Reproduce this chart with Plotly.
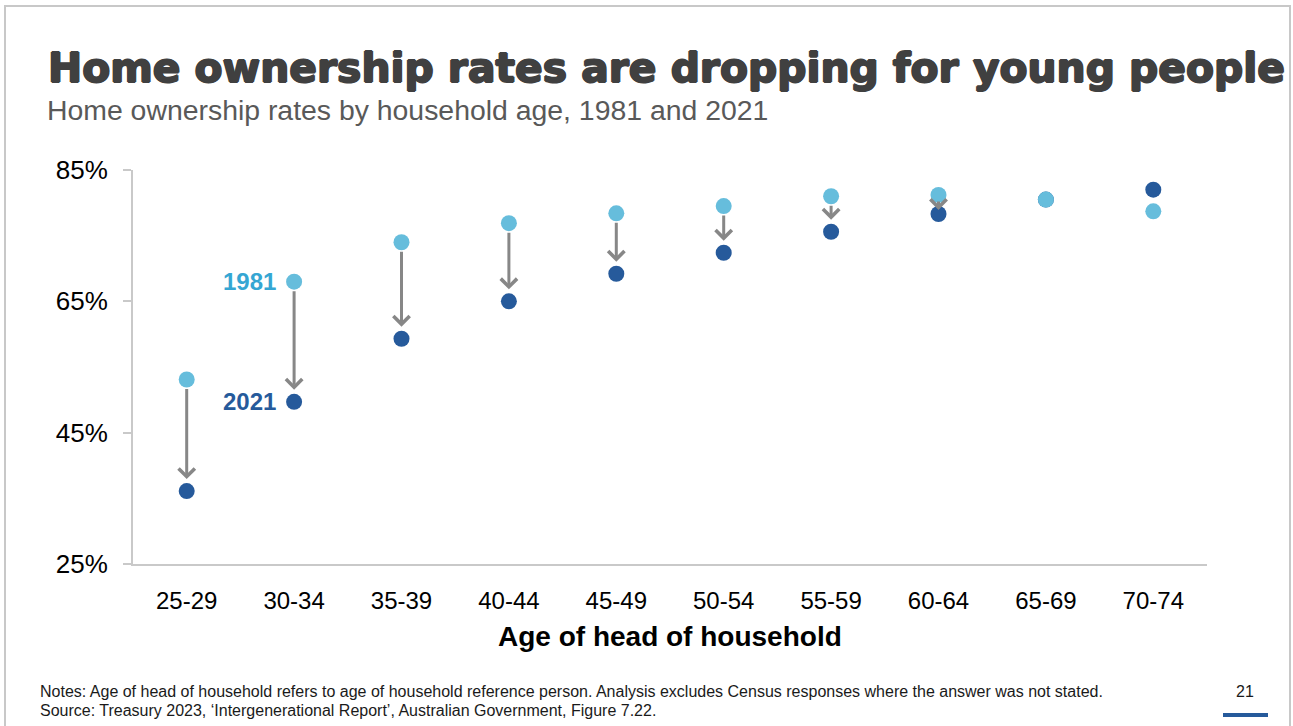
import plotly.graph_objects as go

# ---- data ----
age_groups = ["25-29", "30-34", "35-39", "40-44", "45-49", "50-54", "55-59", "60-64", "65-69", "70-74"]
rate_1981 = [53.1, 68.0, 74.0, 76.9, 78.4, 79.5, 81.0, 81.2, 80.5, 78.7]
rate_2021 = [36.1, 49.7, 59.3, 65.0, 69.2, 72.4, 75.6, 78.3, 80.5, 82.0]
y_ticks = [25, 45, 65, 85]
y_tick_labels = ["25%", "45%", "65%", "85%"]

title_text = "Home ownership rates are dropping for young people"
subtitle_text = "Home ownership rates by household age, 1981 and 2021"
notes_text = ("Notes: Age of head of household refers to age of household reference person. "
              "Analysis excludes Census responses where the answer was not stated.")
source_text = "Source: Treasury 2023, \u2018Intergenerational Report\u2019, Australian Government, Figure 7.22."
page_number = "21"

# ---- layout geometry (pixels) ----
W, H = 1293, 726
ML, MR, MT, MB = 133, 86, 170, 162
PW, PH = W - ML - MR, H - MT - MB
Y0, Y1 = 25, 85

def px(x):
    return (x - ML) / PW

def py(y):
    return (H - MB - y) / PH

C1981 = "#66bddc"
C2021 = "#265a9b"
LBL1981 = "#35a6d3"
GRAY_AX = "#c9c9c9"
ARROW = "#878787"

fig = go.Figure()

# 2021 first so 1981 sits on top where they coincide
fig.add_trace(go.Scatter(
    x=age_groups, y=rate_2021, mode="markers", name="2021",
    marker=dict(size=16, color=C2021), hoverinfo="x+y"))
fig.add_trace(go.Scatter(
    x=age_groups, y=rate_1981, mode="markers", name="1981",
    marker=dict(size=16, color=C1981), hoverinfo="x+y"))

annotations = []
# arrows for declines
for g, a, b in zip(age_groups, rate_1981, rate_2021):
    if a - b > 0.5:
        gap_px = (a - b) / (Y1 - Y0) * PH
        if gap_px > 30:
            so, sso = 12, 8
        else:
            so, sso = 4, 5
        annotations.append(dict(
            x=g, y=b, ax=g, ay=a, xref="x", yref="y", axref="x", ayref="y",
            text="", showarrow=True, arrowhead=4, arrowsize=1.05, arrowwidth=3,
            arrowcolor=ARROW, standoff=so, startstandoff=sso))

# series labels next to 30-34
annotations.append(dict(x=age_groups[1], y=rate_1981[1], xref="x", yref="y",
                        text="<b>1981</b>", showarrow=False, xanchor="right", xshift=-16,
                        font=dict(family="Liberation Sans, Arial", size=24, color=LBL1981)))
annotations.append(dict(x=age_groups[1], y=rate_2021[1], xref="x", yref="y",
                        text="<b>2021</b>", showarrow=False, xanchor="right", xshift=-16,
                        font=dict(family="Liberation Sans, Arial", size=24, color=C2021)))

# titles
annotations.append(dict(x=px(46), y=py(68), xref="paper", yref="paper",
                        text="<b>" + title_text + "</b>", showarrow=False,
                        xanchor="left", yanchor="middle",
                        font=dict(family="DejaVu Sans", size=40.8, color="#404040",
                                  shadow="1px 0px 0px #404040, -1px 0px 0px #404040, 0px 1px 0px #404040, 0px -1px 0px #404040")))
annotations.append(dict(x=px(45), y=py(110), xref="paper", yref="paper",
                        text=subtitle_text, showarrow=False,
                        xanchor="left", yanchor="middle",
                        font=dict(family="Liberation Sans, Arial", size=28.4, color="#595959")))
# axis title
annotations.append(dict(x=px(670), y=py(636), xref="paper", yref="paper",
                        text="<b>Age of head of household</b>", showarrow=False,
                        xanchor="center", yanchor="middle",
                        font=dict(family="Liberation Sans, Arial", size=28, color="#000000")))
# notes
annotations.append(dict(x=px(38), y=py(691), xref="paper", yref="paper",
                        text=notes_text, showarrow=False, xanchor="left", yanchor="middle",
                        font=dict(family="Liberation Sans, Arial", size=16, color="#1a1a1a")))
annotations.append(dict(x=px(38), y=py(710), xref="paper", yref="paper",
                        text=source_text, showarrow=False, xanchor="left", yanchor="middle",
                        font=dict(family="Liberation Sans, Arial", size=16, color="#1a1a1a")))
annotations.append(dict(x=px(1245), y=py(691), xref="paper", yref="paper",
                        text=page_number, showarrow=False, xanchor="center", yanchor="middle",
                        font=dict(family="Liberation Sans, Arial", size=16, color="#1a1a1a")))

shapes = [
    # slide frame
    dict(type="rect", xref="paper", yref="paper", x0=px(5), x1=px(1290), y0=py(740), y1=py(6),
         line=dict(color="#c8c8c8", width=2), fillcolor="rgba(0,0,0,0)", layer="below"),
    # page-number bar
    dict(type="rect", xref="paper", yref="paper", x0=px(1223), x1=px(1268), y0=py(717), y1=py(713),
         line=dict(width=0), fillcolor=C2021),
]

fig.update_layout(
    width=W, height=H,
    margin=dict(l=ML, r=MR, t=MT, b=MB, autoexpand=False),
    paper_bgcolor="white", plot_bgcolor="white",
    showlegend=False,
    annotations=annotations, shapes=shapes,
    font=dict(family="Liberation Sans, Arial", color="#000000"),
    xaxis=dict(
        type="category", range=[-0.5, len(age_groups) - 0.5],
        showline=True, linecolor=GRAY_AX, linewidth=2,
        showgrid=False, zeroline=False, ticks="",
        tickfont=dict(size=24, color="#000000"), ticklabelstandoff=14,
    ),
    yaxis=dict(
        range=[Y0, Y1], tickvals=y_ticks, ticktext=y_tick_labels,
        showline=True, linecolor=GRAY_AX, linewidth=2,
        showgrid=False, zeroline=False, ticks="outside", ticklen=8, tickcolor=GRAY_AX, tickwidth=2,
        tickfont=dict(size=26, color="#000000"), ticklabelstandoff=10,
    ),
)

fig.write_html("out.html")
